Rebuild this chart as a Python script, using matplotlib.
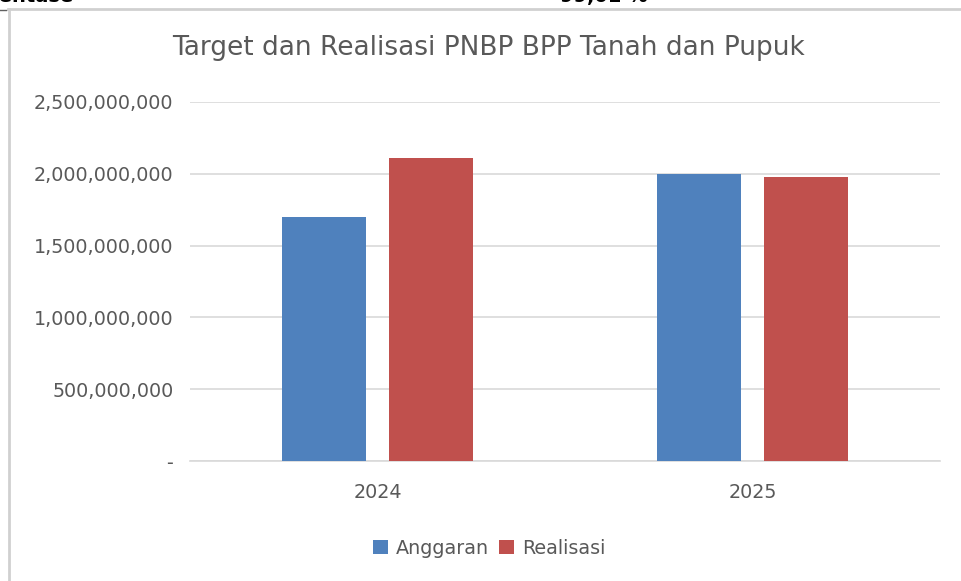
import matplotlib.pyplot as plt
import matplotlib.lines as mlines
import numpy as np

# data
years = ["2024", "2025"]
anggaran = [1700000000, 2000000000]
realisasi = [2110000000, 1980000000]
yticks = [0, 500000000, 1000000000, 1500000000, 2000000000, 2500000000]
ytick_labels = ["-", "500,000,000", "1,000,000,000", "1,500,000,000",
                "2,000,000,000", "2,500,000,000"]

blue = "#4F81BD"
red = "#C0504D"
grey_txt = "#595959"

fig = plt.figure(figsize=(9.62, 5.81), dpi=100)
ax = fig.add_axes([190 / 962, 120 / 581, 750 / 962, 359 / 581])

x = np.arange(len(years))
w = 0.224
off = 0.1427
ax.bar(x - off, anggaran, w, color=blue, label="Anggaran", zorder=3)
ax.bar(x + off, realisasi, w, color=red, label="Realisasi", zorder=3)

ax.set_xlim(-0.5, 1.5)
ax.set_ylim(0, 2500000000)
ax.set_yticks(yticks)
ax.set_yticklabels(ytick_labels)
ax.set_xticks(x)
ax.set_xticklabels(years)
ax.tick_params(axis="y", length=0, pad=12, labelsize=13.8, colors=grey_txt)
ax.tick_params(axis="x", length=0, pad=16, labelsize=13.8, colors=grey_txt)
ax.grid(axis="y", color="#D9D9D9", linewidth=1.2, zorder=0)
for s in ["top", "right", "left"]:
    ax.spines[s].set_visible(False)
ax.spines["bottom"].set_color("#D9D9D9")
ax.spines["bottom"].set_linewidth(1.2)

fig.text(489 / 962, 1 - 48 / 581, "Target dan Realisasi PNBP BPP Tanah dan Pupuk",
         ha="center", va="center", fontsize=19, color=grey_txt)

fig.legend(loc="center", bbox_to_anchor=(489 / 962, 1 - 548 / 581), ncol=2, frameon=False,
           fontsize=13.8, labelcolor=grey_txt, handlelength=0.8, handleheight=0.8,
           handletextpad=0.4, columnspacing=0.5)

# cut-off text of the page above the chart
fig.text(-50 / 962, 1 - 2 / 581, "Presentase", fontsize=14, fontweight="bold", va="baseline")
fig.text(560 / 962, 1 - 2 / 581, "99,01 %", fontsize=14, fontweight="bold", va="baseline")

# frame lines of the embedded chart
fig.add_artist(mlines.Line2D([8 / 962, 1], [1 - 9 / 581, 1 - 9 / 581],
                             transform=fig.transFigure, color="#D0D0D0", linewidth=2))
fig.add_artist(mlines.Line2D([0, 6 / 962], [1 - 10 / 581, 1 - 10 / 581],
                             transform=fig.transFigure, color="#606060", linewidth=1))
fig.add_artist(mlines.Line2D([8.5 / 962, 8.5 / 962], [0, 1 - 9 / 581],
                             transform=fig.transFigure, color="#D0D0D0", linewidth=2))

fig.savefig("out.png", dpi=100)
